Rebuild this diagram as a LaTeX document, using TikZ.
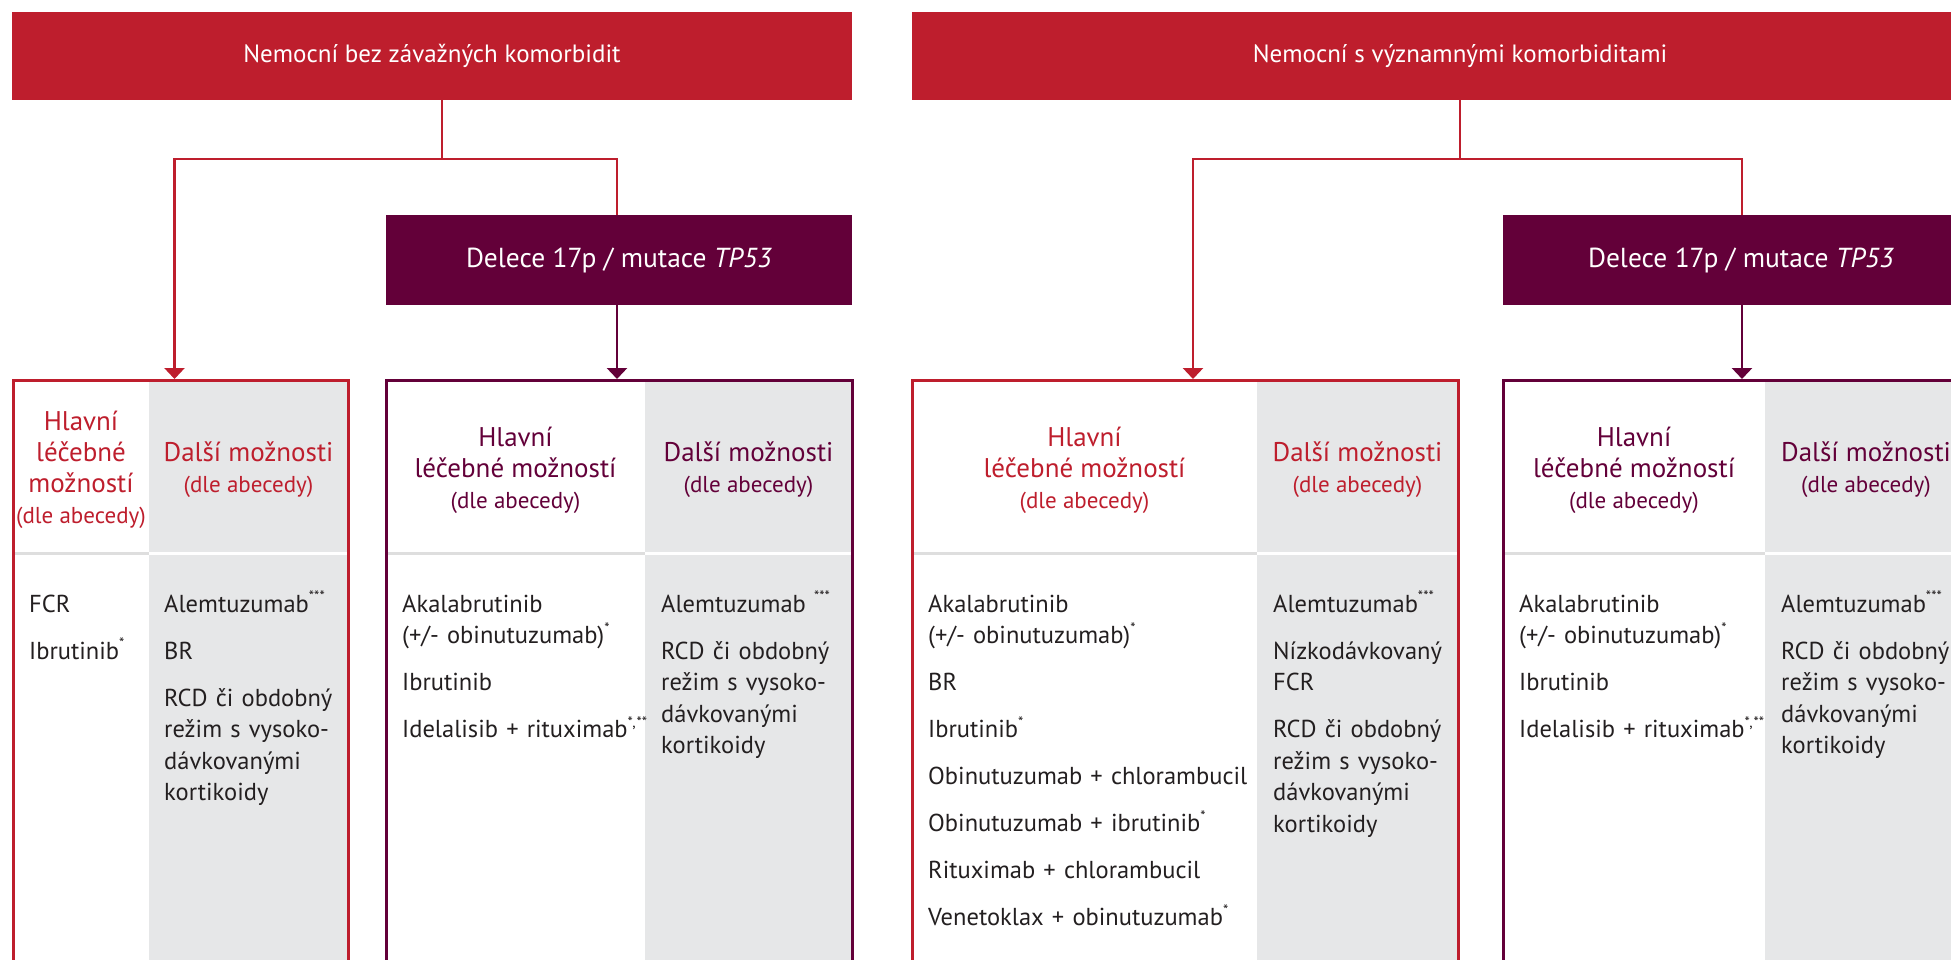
\documentclass[tikz,border=0pt]{standalone}
\usepackage{fontspec}
\setmainfont{PT Sans}
\usetikzlibrary{arrows.meta}
\definecolor{Rcolor}{RGB}{190, 30, 45}
\definecolor{Pcolor}{RGB}{99, 0, 57}
\definecolor{Gcolor}{RGB}{230, 231, 232}
\definecolor{Lcolor}{RGB}{222, 222, 222}
\definecolor{Tcolor}{RGB}{35, 31, 32}
\newcommand{\drugmark}[1]{\raisebox{1pt}{\textsuperscript{\fontsize{15}{15}\selectfont #1}}}
\newcommand{\dleabc}{{\fontsize{23}{28}\selectfont (dle abecedy)}}
\begin{document}
\begin{tikzpicture}[x=1pt, y=-1pt,
    topbox/.style={fill=#1, text=white, minimum height=88pt, inner sep=0pt, font=\fontsize{25}{30}\selectfont},
    subbox/.style={fill=Pcolor, text=white, minimum height=90pt, inner sep=0pt, font=\fontsize{27.5}{30}\selectfont},
    tabbox/.style={draw=#1, line width=3pt, minimum height=620pt, inner sep=0pt},
    link/.style={draw=#1, line width=2.7pt},
    arrowed/.style={-{Triangle[width=20pt,length=11pt]}},
    hdr/.style={text=#1, align=center, inner sep=0pt, font=\fontsize{27}{31}\selectfont},
    body/.style={text=Tcolor, anchor=base west, text width=400pt, align=left, inner sep=0pt, font=\fontsize{24.5}{31.5}\selectfont},
]
    \useasboundingbox (0,0) rectangle (1951,960);
    \clip (0,0) rectangle (1951,960);
    \def\headY{470}
    \def\rowY{612}
    \def\gap{\\[15.5pt]}
    % grey columns and header dividers
    \foreach \xa/\xb/\xc in {13/149/348, 386/645/852, 912/1257/1458, 1503/1765/1969} {
        \fill[Gcolor] (\xb,381) rectangle (\xc,1000);
        \draw[Lcolor, line width=3pt] (\xa,553) -- (\xb,553);
        \draw[white, line width=3pt] (\xb,553) -- (\xc,553);
    }
    \node[tabbox=Rcolor, minimum width=335pt] (tabA) at (180.5,690.5) {};
    \node[tabbox=Pcolor, minimum width=466pt] (tabB) at (619,690.5) {};
    \node[tabbox=Rcolor, minimum width=546pt] (tabC) at (1185,690.5) {};
    \node[tabbox=Pcolor, minimum width=466pt] (tabD) at (1736,690.5) {};
    % top boxes
    \node[topbox=Rcolor, minimum width=840pt] (topL) at (432,56) {Nemocní bez závažných komorbidit};
    \node[topbox=Rcolor, minimum width=1096pt] (topR) at (1460,56) {Nemocní s významnými komorbiditami};
    \node[subbox, minimum width=466pt] (delL) at (619,260) {Delece 17p / mutace \textit{TP53}};
    \node[subbox, minimum width=476pt] (delR) at (1741,260) {Delece 17p / mutace \textit{TP53}};
    % headers
    \node[hdr=Rcolor] (hA1) at (81,\headY) {Hlavní\\léčebné\\možností\\\dleabc};
    \node[hdr=Rcolor] (hA2) at (248.5,\headY) {Další možnosti\\\dleabc};
    \node[hdr=Pcolor] (hB1) at (515.5,\headY) {Hlavní\\léčebné možností\\\dleabc};
    \node[hdr=Pcolor] (hB2) at (748.5,\headY) {Další možnosti\\\dleabc};
    \node[hdr=Rcolor] (hC1) at (1084.5,\headY) {Hlavní\\léčebné možností\\\dleabc};
    \node[hdr=Rcolor] (hC2) at (1357.5,\headY) {Další možnosti\\\dleabc};
    \node[hdr=Pcolor] (hD1) at (1634,\headY) {Hlavní\\léčebné možností\\\dleabc};
    \node[hdr=Pcolor] (hD2) at (1866,\headY) {Další možnosti\\\dleabc};
    % lists
    \node[body] (bA1) at (29,\rowY) {FCR\gap Ibrutinib\drugmark{*}};
    \node[body] (bA2) at (164,\rowY) {Alemtuzumab\drugmark{***}\gap BR\gap RCD či obdobný\\režim s vysoko-\\dávkovanými\\kortikoidy};
    \node[body] (bB1) at (402,\rowY) {Akalabrutinib\\(+/- obinutuzumab)\drugmark{*}\gap Ibrutinib\gap Idelalisib + rituximab\drugmark{*,\kern1pt**}};
    \node[body] (bB2) at (661,\rowY) {Alemtuzumab \drugmark{***}\gap RCD či obdobný\\režim s vysoko-\\dávkovanými\\kortikoidy};
    \node[body] (bC1) at (928,\rowY) {Akalabrutinib\\(+/- obinutuzumab)\drugmark{*}\gap BR\gap Ibrutinib\drugmark{*}\gap Obinutuzumab + chlorambucil\gap Obinutuzumab + ibrutinib\drugmark{*}\gap Rituximab + chlorambucil\gap Venetoklax + obinutuzumab\drugmark{*}};
    \node[body] (bC2) at (1273,\rowY) {Alemtuzumab\drugmark{***}\gap Nízkodávkovaný\\FCR\gap RCD či obdobný\\režim s vysoko-\\dávkovanými\\kortikoidy};
    \node[body] (bD1) at (1519,\rowY) {Akalabrutinib\\(+/- obinutuzumab)\drugmark{*}\gap Ibrutinib\gap Idelalisib + rituximab\drugmark{*,\kern1pt**}};
    \node[body] (bD2) at (1781,\rowY) {Alemtuzumab\drugmark{***}\gap RCD či obdobný\\režim s vysoko-\\dávkovanými\\kortikoidy};
    % connectors
    \coordinate (forkL) at (442,159);
    \coordinate (forkR) at (1460,159);
    \draw[link=Rcolor] (forkL |- topL.south) -- (forkL);
    \draw[link=Rcolor, arrowed] (forkL) -| ([xshift=-6pt]tabA.north);
    \draw[link=Rcolor] (forkL) -| ([xshift=-2pt]delL.north);
    \draw[link=Pcolor, arrowed] ([xshift=-2pt]delL.south) -- ([xshift=-2pt]tabB.north);
    \draw[link=Rcolor] (forkR |- topR.south) -- (forkR);
    \draw[link=Rcolor, arrowed] (forkR) -| ([xshift=8pt]tabC.north);
    \draw[link=Rcolor] (forkR) -| ([xshift=1pt]delR.north);
    \draw[link=Pcolor, arrowed] ([xshift=1pt]delR.south) -- ([xshift=1pt]delR.south |- tabD.north);
\end{tikzpicture}
\end{document}
